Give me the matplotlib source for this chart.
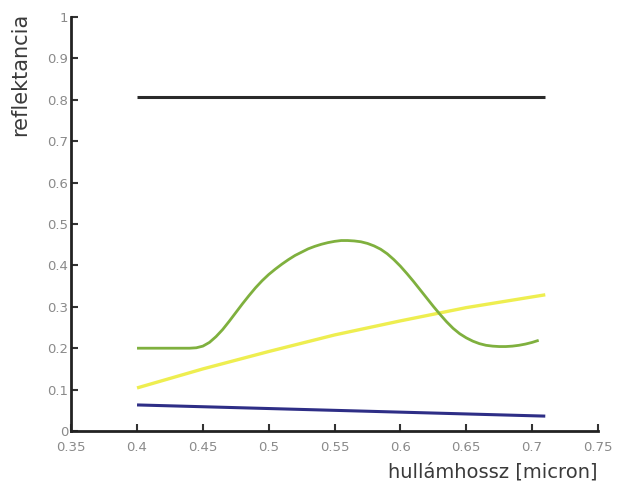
import matplotlib.pyplot as plt

# reflectance curves
wavelength_flat = [0.40, 0.71]
water_reflectance = [0.063, 0.036]
snow_reflectance = [0.807, 0.807]

soil_wavelength = [0.40, 0.45, 0.50, 0.55, 0.60, 0.65, 0.71]
soil_reflectance = [0.104, 0.150, 0.192, 0.232, 0.266, 0.298, 0.329]

veg_wavelength = [0.400, 0.440, 0.445, 0.450, 0.455, 0.460, 0.465, 0.470, 0.475, 0.480,
                  0.485, 0.490, 0.495, 0.500, 0.505, 0.510, 0.515, 0.520, 0.525, 0.530,
                  0.535, 0.540, 0.545, 0.550, 0.555, 0.560, 0.565, 0.570, 0.575, 0.580,
                  0.585, 0.590, 0.595, 0.600, 0.605, 0.610, 0.615, 0.620, 0.625, 0.630,
                  0.635, 0.640, 0.645, 0.650, 0.655, 0.660, 0.665, 0.670, 0.675, 0.680,
                  0.685, 0.690, 0.695, 0.700, 0.705]
veg_reflectance = [0.200, 0.200, 0.201, 0.205, 0.214, 0.228, 0.245, 0.265, 0.286, 0.307,
                   0.327, 0.346, 0.363, 0.378, 0.391, 0.403, 0.414, 0.424, 0.432, 0.440,
                   0.446, 0.451, 0.455, 0.458, 0.460, 0.460, 0.459, 0.457, 0.453, 0.447,
                   0.439, 0.428, 0.414, 0.398, 0.380, 0.361, 0.341, 0.321, 0.301, 0.282,
                   0.264, 0.248, 0.235, 0.225, 0.217, 0.211, 0.207, 0.205, 0.204, 0.204,
                   0.205, 0.207, 0.210, 0.214, 0.219]

x_ticks = [0.35, 0.4, 0.45, 0.5, 0.55, 0.6, 0.65, 0.7, 0.75]
y_ticks = [0, 0.1, 0.2, 0.3, 0.4, 0.5, 0.6, 0.7, 0.8, 0.9, 1]
x_tick_labels = ['0.35', '0.4', '0.45', '0.5', '0.55', '0.6', '0.65', '0.7', '0.75']
y_tick_labels = ['0', '0.1', '0.2', '0.3', '0.4', '0.5', '0.6', '0.7', '0.8', '0.9', '1']

fig = plt.figure(figsize=(6.19, 4.98), dpi=100)
ax = fig.add_axes([0.115, 0.1345, 0.851, 0.8315])

ax.plot(wavelength_flat, snow_reflectance, color='#2a2a2a', lw=2.2, solid_capstyle='butt')
ax.plot(soil_wavelength, soil_reflectance, color='#eeee50', lw=2.4, solid_capstyle='butt')
ax.plot(veg_wavelength, veg_reflectance, color='#7fb03e', lw=2.0,
        solid_capstyle='butt', solid_joinstyle='round')
ax.plot(wavelength_flat, water_reflectance, color='#2e2e86', lw=2.2, solid_capstyle='butt')

ax.set_xlim(0.35, 0.75)
ax.set_ylim(0, 1)
ax.set_xticks(x_ticks, x_tick_labels)
ax.set_yticks(y_ticks, y_tick_labels)
ax.tick_params(direction='in', length=5, width=1.5, color='#333333',
               labelcolor='#8a8a8a', labelsize=9.5)
ax.tick_params(axis='x', pad=7)
ax.tick_params(axis='y', pad=2)

for side in ('top', 'right'):
    ax.spines[side].set_visible(False)
for side in ('left', 'bottom'):
    ax.spines[side].set_linewidth(2)
    ax.spines[side].set_color('#222222')

ax.set_xlabel('hullámhossz [micron]', fontsize=14, color='#3a3a3a', loc='right')
ax.xaxis.set_label_coords(1.0, -0.075)
ax.set_ylabel('reflektancia', fontsize=15, color='#3a3a3a')
ax.yaxis.set_label_coords(-0.078, 0.862)

fig.savefig('out.png', dpi=100, facecolor='white')
